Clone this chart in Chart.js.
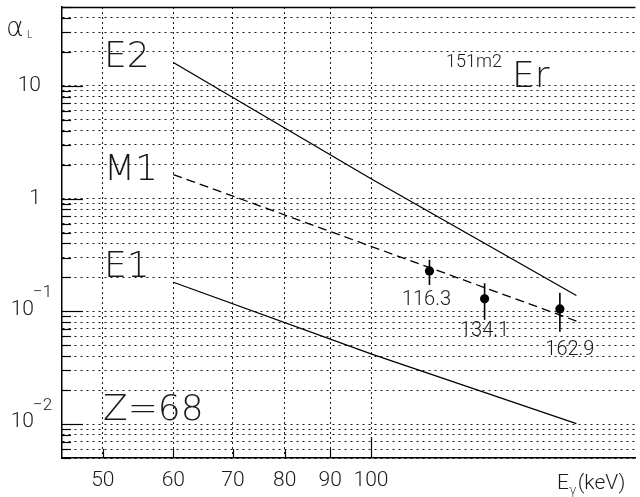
<!DOCTYPE html>
<html><head><meta charset="utf-8">
<script src="https://cdn.jsdelivr.net/npm/chart.js@4.4.1/dist/chart.umd.min.js"></script>
<style>html,body{margin:0;padding:0;background:#fff;overflow:hidden}</style>
</head><body>
<canvas id="c" width="640" height="497"></canvas>
<script>
// ---- data ----
const e2Energy = [60, 100, 170];
const e2Alpha  = [16.1, 1.5, 0.138];
const m1Energy = [60, 70, 100, 170];
const m1Alpha  = [1.63, 1.05, 0.377, 0.082];
const e1Energy = [60, 100, 170];
const e1Alpha  = [0.181, 0.042, 0.0101];
const expEnergy = [116.3, 134.1, 162.9];
const expAlpha  = [0.228, 0.129, 0.105];
const expLow    = [0.171, 0.084, 0.066];
const expHigh   = [0.286, 0.177, 0.146];
const expLabels = ['116.3', '134.1', '162.9'];
const xTickValues = [50, 60, 70, 80, 90, 100];
const yDecades = [0.001, 0.01, 0.1, 1, 10];
const yMantissas = [1, 2, 3, 4, 5, 6, 7, 8, 9];
const yMajorValues = [0.01, 0.1, 1, 10];
const yMajorBase = ['10', '10', '1', '10'];
const yMajorExp  = ['\u22122', '\u22121', '', ''];
const curveNames = ['E2', 'M1', 'E1', 'Z=68'];

const X_MIN = 45, X_MAX = 198, Y_MIN = 0.005, Y_MAX = 50;
const yGridValues = [];
yDecades.forEach(d => yMantissas.forEach(m => {
  const v = +(m * d).toPrecision(6);
  if (v >= Y_MIN && v <= Y_MAX) yGridValues.push(v);
}));

const pts = (xs, ys) => xs.map((x, i) => ({x, y: ys[i]}));
const FONT = 'Roboto, "Liberation Sans", sans-serif';
const BIG = '"DejaVu Sans", "Liberation Sans", sans-serif';
const TXT = '#1a1a1a';

const datasets = [
  {data: pts(e2Energy, e2Alpha), showLine: true, borderColor: '#000', borderWidth: 1.3, pointRadius: 0},
  {data: pts(m1Energy, m1Alpha), showLine: true, borderColor: '#000', borderWidth: 1.3, borderDash: [9, 5], pointRadius: 0},
  {data: pts(e1Energy, e1Alpha), showLine: true, borderColor: '#000', borderWidth: 1.3, pointRadius: 0}
];
expEnergy.forEach((e, i) => datasets.push({
  data: [{x: e, y: expLow[i]}, {x: e, y: expHigh[i]}],
  showLine: true, borderColor: '#000', borderWidth: 1.6, pointRadius: 0
}));
datasets.push({data: pts(expEnergy, expAlpha), showLine: false, pointRadius: 4.6,
  backgroundColor: '#000', borderColor: '#000', borderWidth: 0});

const labelOffsets = [[-3, 29], [0, 32], [10, 41]];
const curveLabelPos = [[104, 67], [104, 180], [104, 277], [103, 420]];

const deco = {
  id: 'deco',
  afterDraw(chart) {
    const {ctx, chartArea: a, scales: {x, y}} = chart;
    ctx.save();
    ctx.strokeStyle = '#000';
    ctx.lineWidth = 1.5;
    ctx.beginPath(); ctx.moveTo(a.left, a.top + 0.5); ctx.lineTo(a.right, a.top + 0.5); ctx.stroke();
    ctx.lineWidth = 1.2;
    yGridValues.forEach(v => {
      const py = Math.round(y.getPixelForValue(v)) + 0.5;
      const len = yMajorValues.includes(v) ? 21 : 9;
      ctx.beginPath(); ctx.moveTo(a.left, py); ctx.lineTo(a.left + len, py); ctx.stroke();
    });
    xTickValues.forEach(v => {
      const px = Math.round(x.getPixelForValue(v)) + 0.5;
      const len = v === 100 ? 21 : 9;
      ctx.beginPath(); ctx.moveTo(px, a.bottom); ctx.lineTo(px, a.bottom - len); ctx.stroke();
    });
    ctx.fillStyle = TXT;
    // y labels
    yMajorValues.forEach((v, i) => {
      const py = y.getPixelForValue(v);
      if (yMajorExp[i]) {
        ctx.font = '300 21px ' + FONT;
        ctx.textAlign = 'right'; ctx.textBaseline = 'middle';
        ctx.fillText(yMajorBase[i], 34, py - 2);
        ctx.font = '300 17px ' + FONT;
        ctx.textAlign = 'left'; ctx.textBaseline = 'alphabetic';
        ctx.fillText(yMajorExp[i], 33, py - 14);
      } else {
        ctx.font = '300 21px ' + FONT;
        ctx.textAlign = 'right'; ctx.textBaseline = 'middle';
        ctx.fillText(yMajorBase[i], 41, py);
      }
    });
    // point labels
    ctx.font = '300 20px ' + FONT;
    ctx.textAlign = 'center'; ctx.textBaseline = 'middle';
    expEnergy.forEach((e, i) => {
      ctx.fillText(expLabels[i], x.getPixelForValue(e) + labelOffsets[i][0], y.getPixelForValue(expAlpha[i]) + labelOffsets[i][1]);
    });
    // curve labels
    ctx.font = '200 36px ' + BIG;
    ctx.textAlign = 'left'; ctx.textBaseline = 'alphabetic';
    curveNames.forEach((n, i) => ctx.fillText(n, curveLabelPos[i][0], curveLabelPos[i][1]));
    // nucleus
    ctx.font = '300 18px ' + FONT;
    ctx.fillText('151m2', 446, 67);
    ctx.font = '200 36px ' + BIG;
    ctx.fillText('Er', 512, 87);
    // axis titles
    ctx.font = '200 27px ' + BIG;
    ctx.fillText('\u03b1', 6, 36);
    ctx.font = '300 10px ' + FONT;
    ctx.fillText('L', 27, 38);
    ctx.font = '300 21px ' + FONT;
    ctx.fillText('E', 557, 489);
    const wE = ctx.measureText('E').width;
    ctx.font = '200 13px ' + BIG;
    ctx.fillText('\u03b3', 557 + wE, 494);
    const wG = ctx.measureText('\u03b3').width;
    ctx.font = '300 21px ' + FONT;
    ctx.fillText('(keV)', 557 + wE + wG + 1, 489);
    ctx.restore();
  }
};

new Chart(document.getElementById('c'), {
  type: 'scatter',
  data: {datasets},
  options: {
    responsive: false, animation: false,
    layout: {padding: {top: 7, right: 0, left: 0, bottom: 0}},
    plugins: {legend: {display: false}, tooltip: {enabled: false}},
    scales: {
      x: {
        type: 'logarithmic', min: X_MIN, max: X_MAX,
        afterBuildTicks: s => { s.ticks = xTickValues.map(v => ({value: v})); },
        afterFit: s => { s.height = 39; },
        ticks: {autoSkip: false, maxRotation: 0, padding: 10, color: TXT,
          font: {family: FONT, size: 21, weight: 300}, callback: v => String(v)},
        grid: {color: 'rgba(0,0,0,0.9)', lineWidth: 1, drawTicks: false},
        border: {display: true, color: '#000', width: 1.5, dash: [2, 3]}
      },
      y: {
        type: 'logarithmic', min: Y_MIN, max: Y_MAX,
        afterBuildTicks: s => { s.ticks = yGridValues.map(v => ({value: v})); },
        afterFit: s => { s.width = 62; },
        ticks: {display: false},
        grid: {color: 'rgba(0,0,0,0.9)', lineWidth: 1, drawTicks: false},
        border: {display: true, color: '#000', width: 1.5, dash: [2, 4]}
      }
    }
  },
  plugins: [deco]
});
</script>
</body></html>
